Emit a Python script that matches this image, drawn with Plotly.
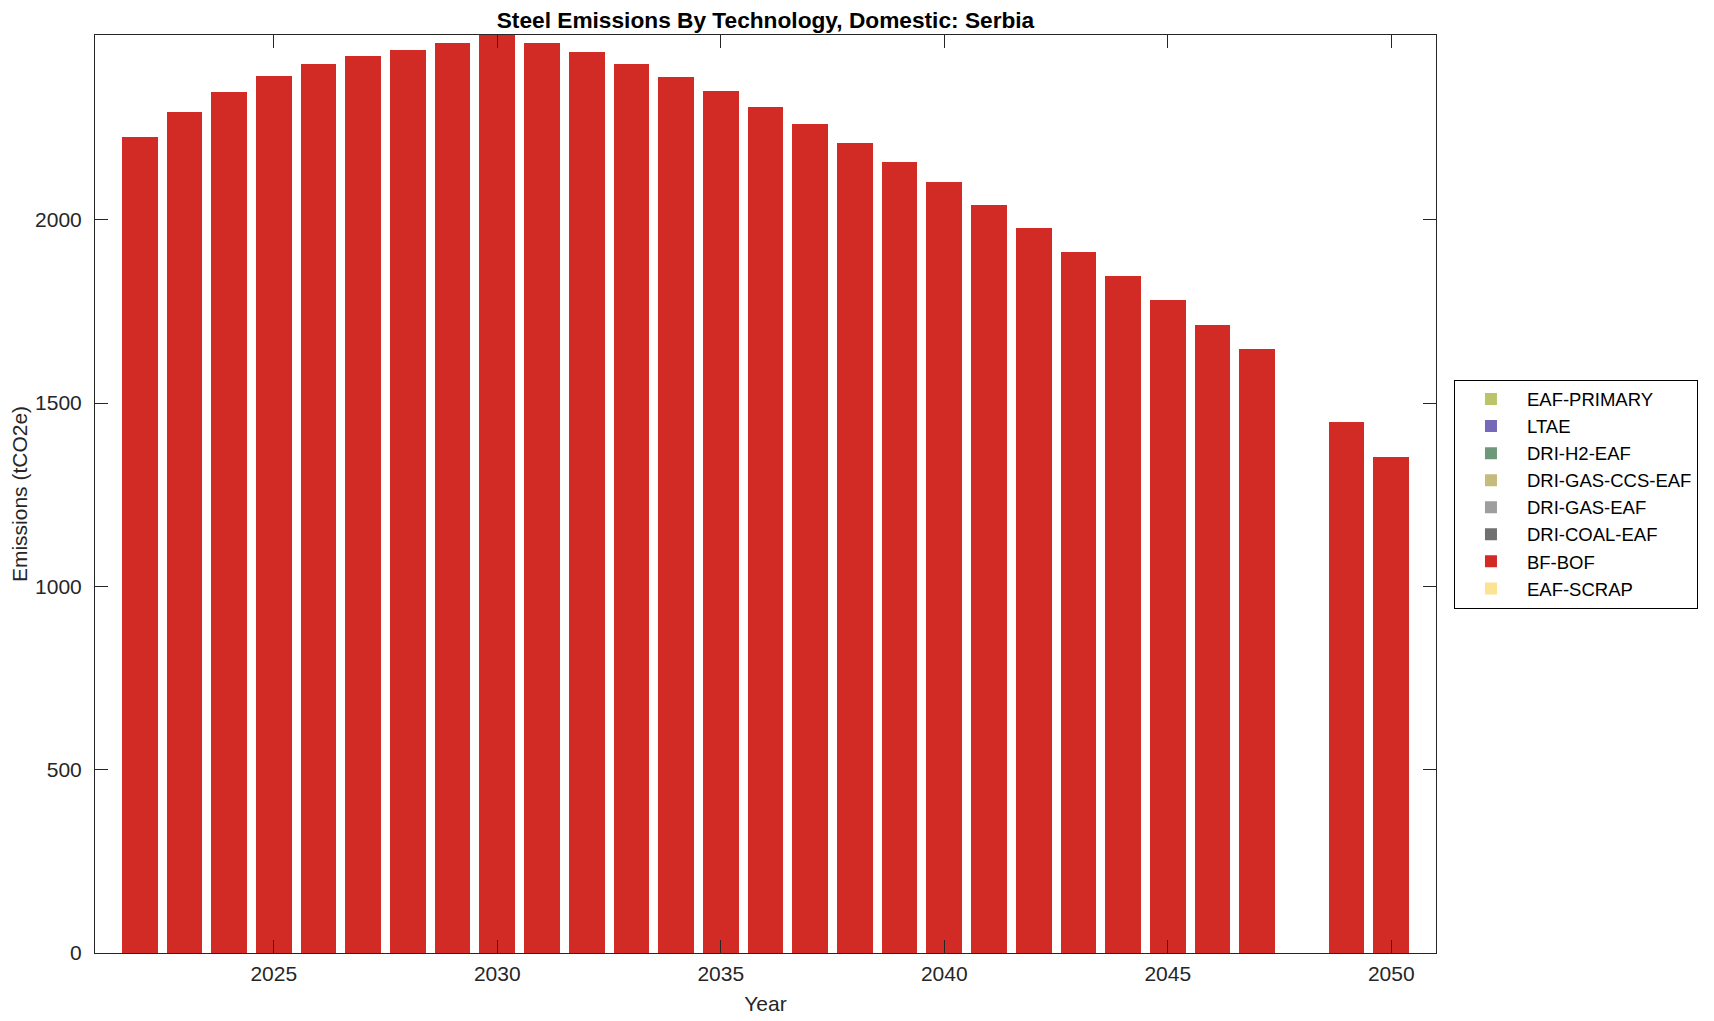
import plotly.graph_objects as go

years = list(range(2022, 2051))
bf_bof = [2225, 2293, 2348, 2392, 2425, 2448, 2463, 2481, 2504, 2482, 2457, 2426, 2390, 2351,
          2307, 2261, 2210, 2157, 2102, 2040, 1977, 1911, 1846, 1780, 1713, 1647, 0, 1449, 1353]
zeros = [0] * len(years)
eaf_scrap = zeros
dri_coal_eaf = zeros
dri_gas_eaf = zeros
dri_gas_ccs_eaf = zeros
dri_h2_eaf = zeros
ltae = zeros
eaf_primary = zeros

series = [
    ("EAF-SCRAP", eaf_scrap, "#fde391"),
    ("BF-BOF", bf_bof, "#d22b26"),
    ("DRI-COAL-EAF", dri_coal_eaf, "#707070"),
    ("DRI-GAS-EAF", dri_gas_eaf, "#9e9e9e"),
    ("DRI-GAS-CCS-EAF", dri_gas_ccs_eaf, "#c5bb7c"),
    ("DRI-H2-EAF", dri_h2_eaf, "#6f987a"),
    ("LTAE", ltae, "#7569b8"),
    ("EAF-PRIMARY", eaf_primary, "#bcc46a"),
]

fig = go.Figure()
for name, vals, col in series:
    fig.add_trace(go.Bar(x=years, y=vals, name=name, marker=dict(color=col, line=dict(width=0))))

axis_col = "#262626"
font_family = "Liberation Sans, Arial, Helvetica, sans-serif"
fig.update_layout(
    width=1714, height=1021,
    barmode="stack", bargap=0.2,
    plot_bgcolor="white", paper_bgcolor="white",
    margin=dict(l=87, r=286, t=27, b=76),
    font=dict(family=font_family, size=21, color=axis_col),
    title=dict(text="<b>Steel Emissions By Technology, Domestic: Serbia</b>",
               x=(87 + 1428) / 2 / 1714, xanchor="center", y=1 - 12 / 1021, yanchor="middle",
               font=dict(size=22.7, color="black")),
    legend=dict(x=1.0134, xanchor="left", y=0.5, yanchor="middle",
                traceorder="reversed", bordercolor="black", borderwidth=1,
                itemwidth=62,
                font=dict(size=18.5, color="black"), bgcolor="white"),
    showlegend=True,
)
fig.update_xaxes(range=[2021, 2051], tickvals=[2025, 2030, 2035, 2040, 2045, 2050],
                 ticks="inside", ticklen=13, tickcolor=axis_col, showline=True, linecolor=axis_col,
                 linewidth=1, mirror="ticks", showgrid=False, zeroline=False,
                 ticklabelstandoff=2,
                 title=dict(text="Year", font=dict(size=21), standoff=12))
fig.update_yaxes(range=[0, 2504], tickvals=[0, 500, 1000, 1500, 2000],
                 ticks="inside", ticklen=13, tickcolor=axis_col, showline=True, linecolor=axis_col,
                 linewidth=1, mirror="ticks", showgrid=False, zeroline=False,
                 ticklabelstandoff=8, automargin=False,
                 title=dict(text="Emissions (tCO2e)", font=dict(size=21), standoff=8))

fig.write_html("out.html")
